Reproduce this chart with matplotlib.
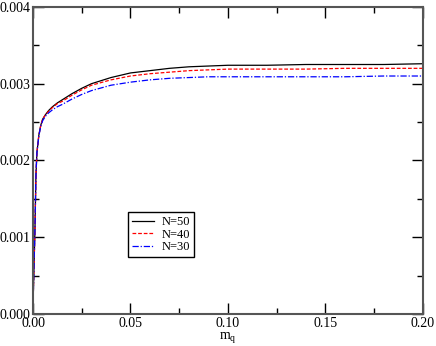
import matplotlib
import matplotlib.pyplot as plt
from matplotlib.ticker import MultipleLocator

matplotlib.use("agg")

plt.rcParams["font.family"] = ["Liberation Serif", "DejaVu Serif"]
plt.rcParams["mathtext.fontset"] = "custom"
plt.rcParams["mathtext.rm"] = "Liberation Serif"
plt.rcParams["mathtext.it"] = "Liberation Serif"

m_q = [0, 0.0002, 0.0005, 0.001, 0.0015, 0.002, 0.003, 0.004, 0.005, 0.0065, 0.008,
       0.01, 0.0125, 0.015, 0.02, 0.025, 0.03, 0.04, 0.05, 0.06, 0.07, 0.08, 0.09,
       0.1, 0.12, 0.14, 0.16, 0.18, 0.2]

n50 = [0, 0.0003, 0.0006, 0.0011, 0.0018, 0.0021, 0.00233, 0.00246, 0.00254, 0.0026, 0.00265,
       0.0027, 0.00275, 0.00279, 0.00287, 0.00294, 0.003, 0.00308, 0.00314, 0.00317, 0.0032, 0.00322, 0.00323,
       0.00324, 0.00324, 0.00325, 0.00325, 0.00325, 0.00326]

n40 = [0, 0.0003, 0.0006, 0.0011, 0.0018, 0.0021, 0.00233, 0.00246, 0.00254, 0.0026, 0.00264,
       0.00269, 0.00274, 0.00277, 0.00285, 0.00292, 0.00298, 0.00305, 0.0031, 0.00313, 0.00315, 0.00317, 0.00318,
       0.00319, 0.00319, 0.00319, 0.0032, 0.0032, 0.0032]

n30 = [0, 0.0003, 0.0006, 0.0011, 0.0018, 0.0021, 0.00232, 0.00245, 0.00252, 0.00258, 0.00262,
       0.00266, 0.0027, 0.00273, 0.0028, 0.00286, 0.00291, 0.00298, 0.00302, 0.00305, 0.00307, 0.00308, 0.00309,
       0.00309, 0.00309, 0.00309, 0.00309, 0.0031, 0.0031]

fig = plt.figure(figsize=(4.36, 3.46), dpi=100)
ax = fig.add_axes([0.0757, 0.0925, 0.8943, 0.8875])

ax.plot(m_q, n50, color="black", lw=0.9, label="N=50")
ax.plot(m_q, n40, color="red", lw=0.9, ls=(0, (3, 1.5)), label="N=40")
ax.plot(m_q, n30, color="blue", lw=0.9, ls=(0, (5, 1.5, 1, 1.5)), label="N=30")

ax.set_xlim(0, 0.2)
ax.set_ylim(0, 0.004)
ax.xaxis.set_major_locator(MultipleLocator(0.05))
ax.xaxis.set_minor_locator(MultipleLocator(0.025))
ax.yaxis.set_major_locator(MultipleLocator(0.001))
ax.yaxis.set_minor_locator(MultipleLocator(0.0005))
ax.xaxis.set_major_formatter(lambda v, p: f"{v:.2f}")
ax.yaxis.set_major_formatter(lambda v, p: f"{v:.3f}")

ax.tick_params(which="both", direction="in", top=True, right=True, labelsize=10, pad=2)
ax.tick_params(which="major", length=8, width=1)
ax.tick_params(which="minor", length=4, width=1)
for s in ax.spines.values():
    s.set_color("#555555")
    s.set_linewidth(1.5)

ax.set_xlabel("m$_\\mathrm{q}$", fontsize=10, labelpad=0)

leg = ax.legend(loc="lower left", bbox_to_anchor=(0.244, 0.186), fontsize=9, frameon=True,
                fancybox=False, edgecolor="black", framealpha=1, handlelength=1.8,
                borderpad=0.3, labelspacing=0.05, handletextpad=0.6, borderaxespad=0)
leg.get_frame().set_linewidth(1.0)

fig.savefig("out.png", dpi=100)
